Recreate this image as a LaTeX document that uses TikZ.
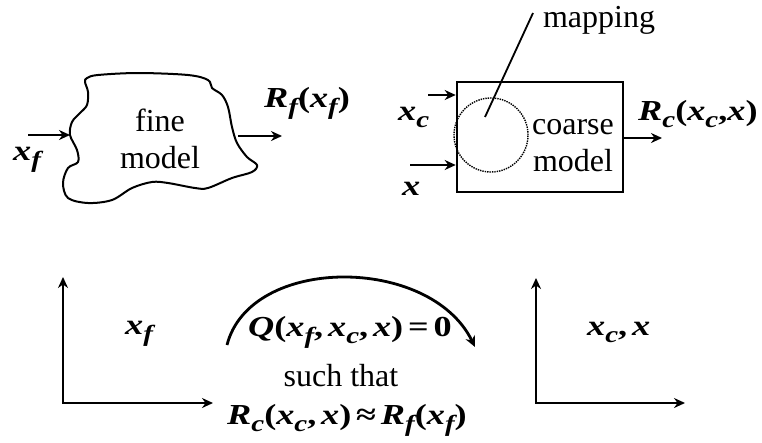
\documentclass[tikz,border=0pt]{standalone}
\usepackage{fontspec}
\setmainfont{Liberation Serif}
\newfontfamily\mfont[FakeStretch=1.25]{Liberation Serif}
\usepackage{tikz}
\usetikzlibrary{positioning,arrows.meta}
\newcommand{\lowsub}[1]{\raisebox{-0.25em}{\scalebox{0.8}{#1}}}
\newcommand{\lpar}{\textup{(}}
\newcommand{\rpar}{\textup{)}}

\begin{document}
\begin{tikzpicture}[x=1pt, y=-1pt,
  every node/.style={font=\fontsize{32}{37}\selectfont, inner sep=0pt},
  mathlbl/.style={font=\fontsize{29}{34}\selectfont\mfont\bfseries\itshape, anchor=base west},
  arr/.style={-{Stealth[length=11pt,width=10pt]}, line width=2.6pt},
  axes/.style={{Stealth[length=11pt,width=10pt]}-{Stealth[length=11pt,width=10pt]}, line width=2.4pt},
  blob/.style={line width=2pt, line join=round},
  model/.style={draw, line width=2.6pt, minimum width=166pt, minimum height=110pt},
  mapcirc/.style={draw, circle, densely dotted, line width=1.4pt, minimum size=74pt},
]
\useasboundingbox (0,0) rectangle (762,442);

% fine model
\draw[blob] plot[smooth cycle, tension=0.55] coordinates {
  (87,78) (98,75) (138,73) (188,75) (208,80) (212,88) (222,95) (228,107)
  (232,127) (237,143) (247,157) (257,165) (252,172) (232,178) (208,188)
  (195,188) (168,183) (152,182) (132,188) (112,200) (88,203) (68,198)
  (63,183) (68,168) (78,162) (77,150) (70,135) (72,122) (80,113) (87,105)
  (88,92) (85,82)};
\node[align=center] at (160,139) (fine) {fine\\model};
\coordinate (finein) at (70,135);
\coordinate (fineout) at (238,136);
\node[mathlbl] at (13,160) (xfin) {x\lowsub{f}};
\node[mathlbl] at (264,107) (Rf) {R\lowsub{f}\lpar x\lowsub{f}\rpar};
\draw[arr] (28,135) -- (finein);
\draw[arr] (fineout) -- (282,136);

% coarse model
\node[model] at (540,137) (coarse) {};
\node[align=center] at (573,146) (coarsetxt) {coarse\\model};
\node[mapcirc] at (491,135) (map) {};
\coordinate (mapin) at (485,117);
\coordinate (maptop) at (533,13);
\node at (599,20) (maplbl) {mapping};
\draw[line width=1.8pt] (mapin) -- (maptop);
\node[mathlbl] at (398,120) (xcin) {x\lowsub{c}};
\node[mathlbl] at (402,195) (xin) {x};
\draw[arr] (428,95) -- (coarse.west |- 0,95);
\draw[arr] (410,165) -- (coarse.west |- 0,165);
\draw[arr] (coarse.east |- 0,138) -- (662,138);
\node[mathlbl] at (638,120) (Rc) {R\lowsub{c}\lpar x\lowsub{c}\textup{,}x\rpar};

% parameter spaces
\coordinate (lo) at (63,403);
\coordinate (ro) at (536,403);
\draw[axes] (63,277) -- (lo) -- (213,403);
\draw[axes] (536,278) -- (ro) -- (685,403);
\node[mathlbl] at (125,334) (xfsp) {x\lowsub{f}};
\node[mathlbl] at (587,335) (xcsp) {x\lowsub{c}\textup{,}\,x};

% relation
\node[mathlbl] at (248,336) (Q) {Q\lpar x\lowsub{f}\textup{,}\,x\lowsub{c}\textup{,}\,x\rpar\,\textup{=}\,\textup{0}};
\node at (341,376) (such) {such that};
\node[mathlbl] at (227,424) (approx) {R\lowsub{c}\lpar x\lowsub{c}\textup{,}\,x\rpar\,\textup{≈}\,R\lowsub{f}\lpar x\lowsub{f}\rpar};
\draw[arr, line width=2.8pt] (227,345) .. controls (250,255) and (430,255) .. (475,347);
\end{tikzpicture}
\end{document}
